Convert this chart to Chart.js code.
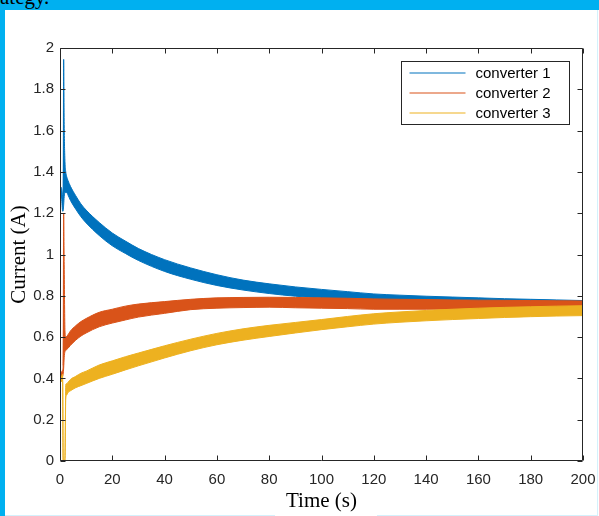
<!DOCTYPE html>
<html>
<head>
<meta charset="utf-8">
<script src="https://cdn.jsdelivr.net/npm/chart.js@4/dist/chart.umd.min.js"></script>
<style>
  body { margin: 0; background: #fff; width: 599px; height: 516px; overflow: hidden; position: relative; }
  .band-top { position: absolute; left: 0; top: 0; width: 599px; height: 10px; background: #00b0f0; }
  .band-left { position: absolute; left: 0; top: 0; width: 5px; height: 516px; background: #00b0f0; }
  .edge-right { position: absolute; left: 597px; top: 10px; width: 1px; height: 506px; background: #d4f1fc; }
  .edge-bottom { position: absolute; top: 515px; height: 1px; background: #d4f1fc; }
  .cut-text { position: absolute; left: 0; top: -13px; font: 21px/20px "Liberation Serif", serif; color: #000; }
  canvas { position: absolute; left: 0; top: 0; }
</style>
</head>
<body>
<div class="band-top"></div>
<div class="band-left"></div>
<div class="cut-text">ategy.</div>
<div class="edge-right"></div>
<div class="edge-bottom" style="left:5px;width:270px"></div>
<div class="edge-bottom" style="left:377px;width:221px"></div>
<canvas id="chart" width="599" height="516"></canvas>
<script>
// time axis (s), shared by all three converters
const times = [0, 0.6, 1.0, 1.2, 1.4, 1.6, 1.9, 2.2, 2.6, 3, 4, 6, 8, 10, 15, 20, 25, 30, 40, 50,
               60, 70, 80, 90, 100, 110, 120, 130, 140, 150, 160, 170, 180, 190, 200];

// each converter's current is a noisy band: upper and lower edge (A)
const conv1Upper = [1.33, 1.32, 1.28, 1.26, 1.945, 1.63, 1.45, 1.40, 1.375, 1.36, 1.33, 1.285, 1.245, 1.215, 1.155, 1.104, 1.065, 1.029, 0.975, 0.935,
                    0.902, 0.876, 0.858, 0.843, 0.831, 0.820, 0.809, 0.803, 0.798, 0.794, 0.790, 0.786, 0.783, 0.780, 0.777];
const conv1Lower = [1.28, 1.27, 1.21, 1.21, 1.24, 1.28, 1.30, 1.30, 1.30, 1.29, 1.262, 1.22, 1.183, 1.153, 1.092, 1.042, 1.005, 0.971, 0.918, 0.880,
                    0.850, 0.828, 0.811, 0.798, 0.789, 0.780, 0.774, 0.770, 0.766, 0.763, 0.761, 0.759, 0.756, 0.755, 0.752];

const conv2Upper = [0.44, 0.43, 0.44, 0.46, 1.20, 0.95, 0.63, 0.60, 0.605, 0.61, 0.63, 0.655, 0.675, 0.69, 0.72, 0.735, 0.75, 0.76, 0.772, 0.783,
                    0.79, 0.792, 0.793, 0.792, 0.79, 0.788, 0.785, 0.783, 0.782, 0.78, 0.779, 0.778, 0.777, 0.776, 0.775];
const conv2Lower = [0.40, 0.40, 0.41, 0.42, 0.45, 0.50, 0.53, 0.535, 0.54, 0.545, 0.56, 0.585, 0.605, 0.62, 0.65, 0.668, 0.683, 0.697, 0.715, 0.733,
                    0.74, 0.743, 0.745, 0.742, 0.74, 0.738, 0.735, 0.735, 0.735, 0.735, 0.735, 0.736, 0.736, 0.736, 0.736];

const conv3Upper = [0.41, 0.41, 0.42, 0.02, 0.0, 0.0, 0.02, 0.37, 0.375, 0.38, 0.395, 0.41, 0.425, 0.435, 0.465, 0.485, 0.505, 0.523, 0.558, 0.59,
                    0.618, 0.64, 0.657, 0.671, 0.685, 0.70, 0.713, 0.722, 0.729, 0.735, 0.74, 0.744, 0.747, 0.75, 0.752];
const conv3Lower = [0.38, 0.385, 0.39, 0.0, 0.0, 0.0, 0.0, 0.30, 0.32, 0.33, 0.34, 0.355, 0.365, 0.375, 0.40, 0.42, 0.441, 0.461, 0.499, 0.534,
                    0.563, 0.585, 0.603, 0.62, 0.636, 0.65, 0.663, 0.672, 0.679, 0.685, 0.69, 0.695, 0.699, 0.702, 0.704];

const seriesNames = ['converter 1', 'converter 2', 'converter 3'];
const seriesColors = ['#0072BD', '#D95319', '#EDB120'];

const xTicks = { min: 0, max: 200, step: 20 };
const yTicks = { min: 0, max: 2, step: 0.2 };

const toPoints = vals => vals.map((v, i) => ({ x: times[i], y: v }));

const bands = [[conv1Lower, conv1Upper], [conv2Lower, conv2Upper], [conv3Lower, conv3Upper]];
const datasets = [];
bands.forEach(([lower, upper], i) => {
    const base = datasets.length;
    const common = {
        borderColor: seriesColors[i],
        backgroundColor: seriesColors[i],
        borderWidth: 1,
        pointRadius: 0,
        cubicInterpolationMode: 'monotone',
        order: 3 - i
    };
    datasets.push({ ...common, label: seriesNames[i] + ' low', data: toPoints(lower), fill: false });
    datasets.push({ ...common, label: seriesNames[i], data: toPoints(upper), fill: { target: base } });
});

const tickFont = { family: '"Liberation Sans", Arial, sans-serif', size: 15 };
const titleFont = { family: '"Liberation Serif", "Times New Roman", serif', size: 21 };

// MATLAB style box with inward ticks, plus the legend box in the upper right
const boxFrame = {
    id: 'boxFrame',
    afterDatasetsDraw(chart) {
        const { ctx, chartArea: a, scales: { x, y } } = chart;
        const L = Math.round(a.left) + 0.5, R = Math.round(a.right) - 0.5;
        const T = Math.round(a.top) + 0.5, B = Math.round(a.bottom) - 0.5;
        ctx.save();
        ctx.strokeStyle = '#262626';
        ctx.lineWidth = 1;
        ctx.beginPath();
        ctx.rect(L, T, R - L, B - T);
        x.ticks.forEach(t => {
            const px = Math.round(x.getPixelForValue(t.value)) + 0.5;
            ctx.moveTo(px, B); ctx.lineTo(px, B - 5);
            ctx.moveTo(px, T); ctx.lineTo(px, T + 5);
        });
        y.ticks.forEach(t => {
            const py = Math.round(y.getPixelForValue(t.value)) + 0.5;
            ctx.moveTo(L, py); ctx.lineTo(L + 5, py);
            ctx.moveTo(R, py); ctx.lineTo(R - 5, py);
        });
        ctx.stroke();

        // legend
        const lx = R - 181, ly = T + 13, lw = 168, lh = 63;
        ctx.fillStyle = '#fff';
        ctx.fillRect(lx, ly, lw, lh);
        ctx.strokeStyle = '#262626';
        ctx.strokeRect(lx, ly, lw, lh);
        ctx.font = '15px "Liberation Sans", Arial, sans-serif';
        ctx.textBaseline = 'middle';
        ctx.textAlign = 'left';
        seriesNames.forEach((name, i) => {
            const ry = Math.round(ly + 11.5 + i * 19.8);
            ctx.strokeStyle = seriesColors[i];
            ctx.lineWidth = 1.2;
            ctx.beginPath();
            ctx.moveTo(lx + 8, ry);
            ctx.lineTo(lx + 64, ry);
            ctx.stroke();
            ctx.fillStyle = '#000';
            ctx.fillText(name, lx + 74, ry + 0.5);
        });
        ctx.restore();
    }
};

new Chart(document.getElementById('chart'), {
    type: 'line',
    data: { datasets },
    options: {
        responsive: false,
        animation: false,
        layout: { padding: { top: 48, right: 16, left: 0, bottom: 0 } },
        plugins: { legend: { display: false }, tooltip: { enabled: false } },
        scales: {
            x: {
                type: 'linear',
                min: xTicks.min, max: xTicks.max,
                ticks: { stepSize: xTicks.step, padding: 10, maxRotation: 0, font: tickFont, color: '#262626' },
                grid: { display: false, drawTicks: false },
                border: { display: false },
                title: { display: true, text: 'Time (s)', font: titleFont, color: '#000', padding: { top: 0, bottom: 2 } },
                afterFit: s => { s.height = 55; s.paddingLeft = 0; s.paddingRight = 0; }
            },
            y: {
                type: 'linear',
                min: yTicks.min, max: yTicks.max,
                ticks: {
                    stepSize: yTicks.step, padding: 6, font: tickFont, color: '#262626',
                    callback: v => String(Math.round(v * 10) / 10)
                },
                grid: { display: false, drawTicks: false },
                border: { display: false },
                title: { display: true, text: 'Current (A)', font: titleFont, color: '#000', padding: { top: 7, bottom: 0 } },
                afterFit: s => { s.width = 60; s.paddingTop = 0; s.paddingBottom = 0; }
            }
        }
    },
    plugins: [boxFrame]
});
</script>
</body>
</html>
